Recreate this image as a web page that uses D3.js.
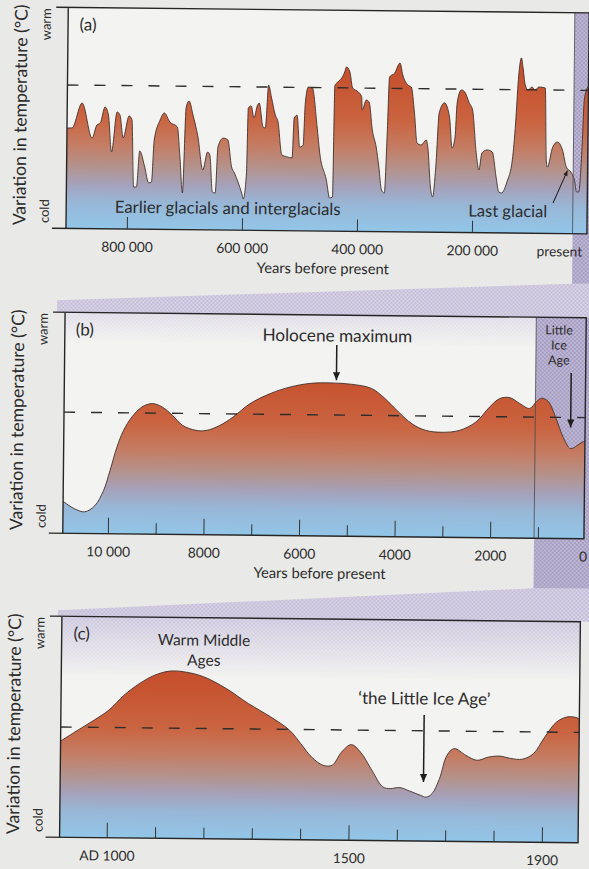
<!DOCTYPE html>
<html>
<head>
<meta charset="utf-8">
<script src="https://cdn.jsdelivr.net/npm/d3@7"></script>
<style>
  html, body { margin: 0; padding: 0; background: #e9e9e7; }
  svg { display: block; }
  text { font-family: Lato, "Open Sans", sans-serif; fill: #2c2c2c; }
</style>
</head>
<body>
<svg id="chart" width="589" height="869"></svg>
<script>
// (a) thousands of years before present / relative temperature (0 = cold, 100 = warm)
const glacialAge = [906, 897, 880, 862, 854, 848, 840, 834, 828, 819, 814, 808, 798, 793, 789, 784,
  779, 770, 763, 758, 754, 744, 737, 727, 714, 709, 704, 699, 694, 687, 678, 669, 661, 657, 652, 647,
  643, 634, 626, 619, 614, 601, 598, 593, 591, 586, 581, 575, 572, 565, 561, 556, 551, 544, 539, 532,
  523, 514, 511, 506, 501, 495, 492, 487, 480, 471, 466, 454, 448, 443, 441, 436, 429, 424, 421, 415,
  410, 400, 394, 393, 386, 381, 375, 368, 363, 358, 353, 349, 346, 337, 328, 323, 314, 308, 302, 297,
  290, 281, 278, 273, 269, 264, 259, 250, 241, 236, 231, 228, 221, 215, 207, 201, 194, 189, 184, 175,
  166, 159, 154, 149, 140, 131, 126, 122, 117, 114, 110, 105, 98, 93, 86, 75, 72, 70, 61, 53, 44, 37,
  28, 22, 19, 15, 10, 7, 1];
const glacialTemp = [45.4, 45.5, 56.8, 41.0, 46.9, 47.9, 55.1, 51.5, 34.8, 52.9, 51.6, 41.2, 51.2, 49.4, 19.0, 19.1,
  35.4, 28.1, 21.0, 21.4, 40.4, 49.5, 52.7, 48.6, 46.4, 32.9, 16.6, 55.5, 58.2, 51.9, 42.0, 27.1, 35.2, 33.9, 17.1, 16.7,
  37.6, 41.6, 40.8, 28.6, 25.9, 16.8, 14.2, 25.9, 55.3, 56.3, 50.9, 56.7, 57.6, 46.8, 46.4, 65.8, 60.4, 52.3, 49.1, 34.3,
  33.4, 33.0, 51.0, 52.3, 37.9, 38.8, 57.9, 65.1, 64.7, 47.1, 35.3, 23.1, 15.0, 15.5, 65.7, 67.5, 69.4, 72.1, 74.4, 72.1,
  64.9, 63.1, 60.9, 55.0, 59.5, 58.6, 46.0, 38.3, 29.3, 18.9, 17.5, 44.7, 70.0, 71.9, 76.4, 71.0, 66.5, 65.6, 53.9, 40.3,
  39.4, 41.7, 38.1, 20.5, 16.0, 29.5, 54.0, 58.6, 52.2, 38.2, 43.2, 58.6, 64.5, 63.6, 58.7, 55.5, 36.1, 28.4, 36.1, 37.5,
  36.6, 25.3, 18.5, 18.1, 23.1, 33.1, 49.8, 69.3, 79.3, 74.8, 67.1, 64.8, 66.2, 64.8, 66.2, 65.8, 33.2, 30.0, 39.1, 41.4, 37.8, 30.1,
  27.5, 23.4, 18.9, 18.9, 39.3, 60.6, 66.5];

// (b) years before present
const holoceneAge = [10950, 10915, 10700, 10490, 10280, 10100, 9970, 9830, 9695, 9520, 9315, 9100, 8890, 8675,
  8460, 8180, 7965, 7685, 7405, 7055, 6630, 6210, 5790, 5365, 4940, 4515, 4230, 3945, 3660, 3375, 3025,
  2670, 2320, 2040, 1830, 1620, 1410, 1200, 1060, 950, 810, 660, 480, 335, 195, 90, 0];
const holoceneTemp = [14.5, 14.0, 11.1, 9.8, 12.6, 19.5, 28.5, 39.2, 46.8, 53.0, 57.5, 59.1, 57.6, 53.9,
  49.4, 47.2, 47.2, 49.5, 53.4, 59.5, 64.2, 67.3, 69.0, 69.3, 68.8, 67.0, 62.5, 56.5, 51.2, 48.3, 47.5,
  48.4, 52.3, 59.1, 63.0, 63.5, 60.9, 58.7, 61.8, 63.4, 61.9, 55.1, 45.3, 40.7, 42.2, 43.7, 44.5];

// (c) years AD
const medievalYear = [903, 932, 971, 1002, 1033, 1065, 1096, 1127, 1158, 1197, 1244, 1290, 1337, 1376, 1399,
  1422, 1446, 1465, 1484, 1504, 1523, 1547, 1570, 1586, 1605, 1625, 1648, 1660, 1672, 1687, 1702, 1717,
  1741, 1764, 1788, 1811, 1834, 1858, 1881, 1904, 1928, 1951, 1970, 1978];
const medievalTemp = [43.6, 47.7, 53.1, 57.8, 64.6, 70.0, 73.8, 75.7, 75.4, 73.3, 68.1, 61.4, 55.4, 49.5, 43.6,
  37.5, 33.8, 33.9, 39.9, 43.3, 40.0, 31.8, 24.3, 23.6, 24.1, 22.6, 20.7, 19.9, 21.5, 28.3, 38.9, 42.0,
  39.0, 36.8, 38.3, 38.8, 37.8, 37.5, 40.1, 47.7, 54.5, 56.9, 56.5, 55.4];

// present-day level (dashed line) in each panel
const presentLevel = [64.9, 54.8, 49.9];

const glacialTicks = [800, 600, 400, 200, 0];
const glacialTickLabels = ["800 000", "600 000", "400 000", "200 000", "present"];
const holoceneTicks = [10000, 9000, 8000, 7000, 6000, 5000, 4000, 3000, 2000, 1000, 0];
const holoceneTickLabels = ["10 000", "", "8000", "", "6000", "", "4000", "", "2000", "", "0"];
const medievalTicks = [1000, 1100, 1200, 1300, 1400, 1500, 1600, 1700, 1800, 1900];
const medievalTickLabels = ["AD 1000", "", "", "", "", "1500", "", "", "", "1900"];

const width = 589, height = 869;
const panelLeft = 63.8;
const panelHeight = 221;

const svg = d3.select("#chart");
svg.append("rect").attr("width", width).attr("height", height).attr("fill", "#e9e9e7");
const defs = svg.append("defs");

function hatch(id, base, ink) {
  const p = defs.append("pattern")
    .attr("id", id)
    .attr("width", 4)
    .attr("height", 4)
    .attr("patternUnits", "userSpaceOnUse");
  p.append("rect").attr("width", 4).attr("height", 4).attr("fill", base);
  p.append("path")
    .attr("d", "M0,4L4,0M-1,1L1,-1M3,5L5,3M0,0L4,4")
    .attr("stroke", ink)
    .attr("stroke-width", 0.8);
}
hatch("hatch-light", "#d8d4e5", "#bfb8d6");
hatch("hatch-dark", "#beb7d2", "#a097c0");

// fading mask for the hatch that bleeds into the top of a plot
const fade = defs.append("linearGradient")
  .attr("id", "fade-grad").attr("x1", 0).attr("x2", 0).attr("y1", 0).attr("y2", 1);
fade.append("stop").attr("offset", 0).attr("stop-color", "#fff").attr("stop-opacity", 0.9);
fade.append("stop").attr("offset", 1).attr("stop-color", "#fff").attr("stop-opacity", 0);
defs.append("mask").attr("id", "fade-mask").attr("maskContentUnits", "objectBoundingBox")
  .append("rect").attr("width", 1).attr("height", 1).attr("fill", "url(#fade-grad)");

defs.append("marker")
  .attr("id", "head")
  .attr("viewBox", "0 0 10 10")
  .attr("refX", 10).attr("refY", 5)
  .attr("markerWidth", 9).attr("markerHeight", 8)
  .attr("markerUnits", "userSpaceOnUse")
  .attr("orient", "auto")
  .append("path").attr("d", "M0,0.5L10,5L0,9.5Z").attr("fill", "#1e1e1e");
defs.append("marker")
  .attr("id", "head-small")
  .attr("viewBox", "0 0 10 10")
  .attr("refX", 10).attr("refY", 5)
  .attr("markerWidth", 6).attr("markerHeight", 5)
  .attr("markerUnits", "userSpaceOnUse")
  .attr("orient", "auto")
  .append("path").attr("d", "M0,0.5L10,5L0,9.5Z").attr("fill", "#1e1e1e");

function tempGradient(id, top, bottom) {
  const g = defs.append("linearGradient")
    .attr("id", id)
    .attr("gradientUnits", "userSpaceOnUse")
    .attr("x1", 0).attr("x2", 0).attr("y1", top).attr("y2", bottom);
  [[0, "#c0432a"], [0.3, "#c6522f"], [0.5, "#ca6441"], [0.62, "#c47d64"],
   [0.72, "#b3938e"], [0.8, "#a5a2bb"], [0.88, "#98b7d7"], [1, "#92c6e8"]]
    .forEach(([o, c]) => g.append("stop").attr("offset", o).attr("stop-color", c));
}

const panels = [
  {
    label: "(a)", top: 9.8, right: 584.8,
    x: d3.scaleLinear().domain([906, 0]).range([63.7, 584.8]),
    xs: glacialAge, ys: glacialTemp, level: presentLevel[0],
    curve: d3.curveMonotoneX,
    ticks: glacialTicks, tickLabels: glacialTickLabels,
    tickLen: (d) => (d === 0 ? 0 : 12),
    strip: 25,
  },
  {
    label: "(b)", top: 314.7, right: 585,
    x: d3.scaleLinear().domain([10950, 0]).range([63.5, 586.7]),
    xs: holoceneAge, ys: holoceneTemp, level: presentLevel[1],
    curve: d3.curveCatmullRom,
    ticks: holoceneTicks, tickLabels: holoceneTickLabels,
    tickLen: (d) => (d === 0 ? 0 : d % 2000 === 0 ? 16 : 11),
    strip: 1080,
  },
  {
    label: "(c)", top: 618.7, right: 582.3,
    x: d3.scaleLinear().domain([903, 1975]).range([64, 582.3]),
    xs: medievalYear, ys: medievalTemp, level: presentLevel[2],
    curve: d3.curveCatmullRom,
    ticks: medievalTicks, tickLabels: medievalTickLabels,
    tickLen: (d) => (d % 500 === 0 || d === 1900 ? 15 : 11),
  },
];
panels.forEach((p) => {
  p.bottom = p.top + panelHeight;
  p.y = d3.scaleLinear().domain([0, 100]).range([p.bottom, p.top]);
});
const [pa, pb, pc] = panels;

// the scan is slightly rotated
const page = svg.append("g").attr("transform", "rotate(0.6 295 435)");

// plot backgrounds
page.append("g")
  .selectAll("rect")
  .data(panels)
  .join("rect")
  .attr("x", panelLeft)
  .attr("y", (p) => p.top)
  .attr("width", (p) => p.right - panelLeft)
  .attr("height", panelHeight)
  .attr("fill", "#f3f3f1");

// magnification bands between panels
const zoom = page.append("g");
const bandA = [
  [pa.x(pa.strip), pa.bottom + 50], [600, pa.bottom + 50], [600, pb.top],
  [panelLeft - 8, pb.top], [panelLeft - 8, pb.top - 12],
];
const bandB = [
  [pb.x(pb.strip), pb.bottom + 50], [600, pb.bottom + 50], [600, pc.top],
  [panelLeft - 4, pc.top], [panelLeft - 4, pc.top - 6],
];
zoom.selectAll("polygon")
  .data([bandA, bandB])
  .join("polygon")
  .attr("points", (d) => d.map((pt) => pt.join(",")).join(" "))
  .attr("fill", "url(#hatch-light)");

zoom.selectAll("rect.strip")
  .data([pa, pb])
  .join("rect")
  .attr("class", "strip")
  .attr("x", (p) => p.x(p.strip))
  .attr("y", (p) => p.top)
  .attr("width", (p) => 600 - p.x(p.strip))
  .attr("height", panelHeight + 50)
  .attr("fill", "url(#hatch-dark)");

// hatch bleeding into top of (b) and (c)
zoom.append("rect")
  .attr("x", panelLeft).attr("y", pc.top)
  .attr("width", pc.right - panelLeft).attr("height", 60)
  .attr("fill", "url(#hatch-light)")
  .attr("mask", "url(#fade-mask)");
zoom.append("rect")
  .attr("x", panelLeft).attr("y", pb.top)
  .attr("width", pb.x(pb.strip) - panelLeft).attr("height", 30)
  .attr("fill", "url(#hatch-light)")
  .attr("mask", "url(#fade-mask)")
  .attr("opacity", 0.5);

panels.forEach((p, i) => {
  const g = page.append("g");
  const data = p.xs.map((v, k) => ({ x: v, t: p.ys[k] }));

  tempGradient(`temp-${i}`, p.top, p.bottom);
  defs.append("clipPath").attr("id", `clip-${i}`)
    .append("rect")
    .attr("x", panelLeft).attr("y", p.top)
    .attr("width", p.right - panelLeft).attr("height", panelHeight);

  const area = d3.area()
    .x((d) => p.x(d.x))
    .y0(p.bottom)
    .y1((d) => p.y(d.t))
    .curve(p.curve);
  const line = d3.line()
    .x((d) => p.x(d.x))
    .y((d) => p.y(d.t))
    .curve(p.curve);

  const plot = g.append("g").attr("clip-path", `url(#clip-${i})`);
  plot.append("path")
    .datum(data)
    .attr("d", area)
    .attr("fill", `url(#temp-${i})`);
  plot.append("path")
    .datum(data)
    .attr("d", line)
    .attr("fill", "none")
    .attr("stroke", "#43322e")
    .attr("stroke-width", 0.9);

  // present-day level
  g.append("line")
    .attr("x1", panelLeft).attr("x2", p.right)
    .attr("y1", p.y(p.level)).attr("y2", p.y(p.level))
    .attr("stroke", "#2d2d2d")
    .attr("stroke-width", 1.4)
    .attr("stroke-dasharray", "11,16");

  if (p.strip) {
    g.append("line")
      .attr("x1", p.x(p.strip)).attr("x2", p.x(p.strip))
      .attr("y1", p.top).attr("y2", p.bottom)
      .attr("stroke", "#4a4a4a")
      .attr("stroke-width", 0.8);
  }

  // frame
  g.append("path")
    .attr("d", `M${panelLeft - 12},${p.top}H${p.right}V${p.bottom}H${panelLeft - 14}M${panelLeft},${p.top}V${p.bottom}`)
    .attr("fill", "none")
    .attr("stroke", "#262626")
    .attr("stroke-width", 1.4);

  // x axis, ticks pointing up into the plot
  const axis = g.append("g")
    .attr("transform", `translate(0,${p.bottom})`)
    .call(
      d3.axisBottom(p.x)
        .tickValues(p.ticks)
        .tickSize(-12)
        .tickPadding(13)
        .tickFormat((d, k) => p.tickLabels[k])
    );
  axis.select(".domain").remove();
  axis.selectAll(".tick line")
    .attr("y2", (d) => -p.tickLen(d))
    .attr("stroke", "#333")
    .attr("stroke-width", 1);
  axis.selectAll(".tick text")
    .attr("font-family", "Lato, 'Open Sans', sans-serif")
    .attr("font-size", 13.8)
    .attr("fill", "#3a3a3a");
  if (i === 0) {
    axis.selectAll(".tick text").filter((d) => d === 0)
      .attr("text-anchor", "end").attr("dx", -5);
  }
  if (i === 1) {
    axis.selectAll(".tick text").filter((d) => d === 0).attr("dx", -3);
  }
  if (i < 2) {
    g.append("text")
      .attr("x", 321)
      .attr("y", p.bottom + 42.5)
      .attr("text-anchor", "middle")
      .attr("font-size", 14.7)
      .attr("fill", "#333")
      .text("Years before present");
  }

  // panel letter and y labels
  g.append("text")
    .attr("x", panelLeft + 20).attr("y", p.top + 23)
    .attr("text-anchor", "middle")
    .attr("font-size", 17)
    .attr("fill", "#444")
    .text(p.label);
  g.append("text")
    .attr("transform", `translate(17,${p.top + panelHeight / 2 - 2.5}) rotate(-90)`)
    .attr("text-anchor", "middle")
    .attr("dy", "0.35em")
    .attr("font-size", 17.6)
    .attr("fill", "#333")
    .text("Variation in temperature (°C)");
  g.append("text")
    .attr("transform", `translate(42,${p.top + 17}) rotate(-90)`)
    .attr("text-anchor", "middle")
    .attr("dy", "0.35em")
    .attr("font-size", 13)
    .attr("fill", "#444")
    .text("warm");
  g.append("text")
    .attr("transform", `translate(42,${p.bottom - 17}) rotate(-90)`)
    .attr("text-anchor", "middle")
    .attr("dy", "0.35em")
    .attr("font-size", 13)
    .attr("fill", "#444")
    .text("cold");

  p.g = g;
});

// annotations
function note(p, x, t, str, size) {
  p.g.append("text")
    .attr("x", p.x(x)).attr("y", p.y(t))
    .attr("text-anchor", "middle")
    .attr("font-size", size)
    .attr("fill", "#232323")
    .text(str);
}
function arrow(p, x1, t1, x2, t2, small) {
  p.g.append("line")
    .attr("x1", p.x(x1)).attr("y1", p.y(t1))
    .attr("x2", p.x(x2)).attr("y2", p.y(t2))
    .attr("stroke", "#1e1e1e")
    .attr("stroke-width", small ? 1 : 1.5)
    .attr("marker-end", small ? "url(#head-small)" : "url(#head)");
}

note(pa, 625, 7.3, "Earlier glacials and interglacials", 16.8);
note(pa, 138, 7.3, "Last glacial", 16.6);
arrow(pa, 59.5, 13.8, 35, 28.5, true);

note(pb, 5240, 88.0, "Holocene maximum", 17.2);
arrow(pb, 5250, 86.5, 5250, 70.5);
note(pb, 600, 92.3, "Little", 12.5);
note(pb, 600, 85.5, "Ice", 12.5);
note(pb, 600, 78.7, "Age", 12.5);
arrow(pb, 338, 74.9, 338, 50.3);

note(pc, 1197, 87.4, "Warm Middle", 15.5);
note(pc, 1197, 78.3, "Ages", 15.5);
note(pc, 1654, 61.8, "\u2018the Little Ice Age\u2019", 17);
arrow(pc, 1654, 57, 1654, 26.7);
</script>
</body>
</html>
